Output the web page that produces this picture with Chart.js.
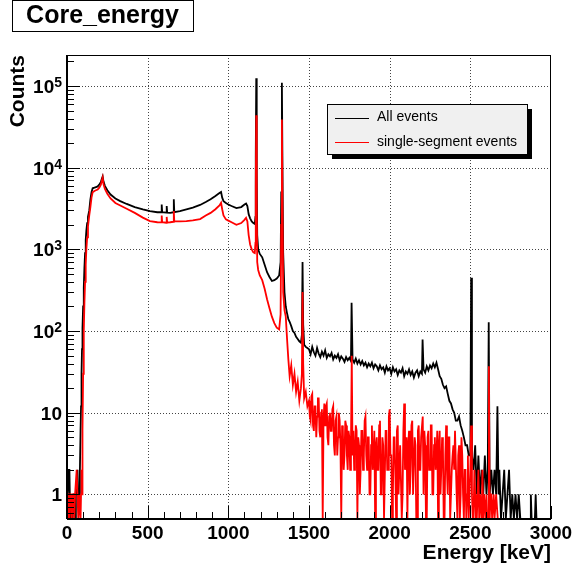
<!DOCTYPE html>
<html>
<head>
<meta charset="utf-8">
<script src="https://cdn.jsdelivr.net/npm/chart.js@4.4.1/dist/chart.umd.min.js"></script>
<style>
  html, body { margin: 0; padding: 0; background: #fff; }
</style>
</head>
<body>
<canvas id="myChart" width="576" height="569"></canvas>
<script>
const ctx = document.getElementById('myChart');

// histogram (keV, counts per bin); 0 = empty bin
const lowEnergy = [
  0, 5, 10, 15, 20, 25, 30, 35, 40, 45,
  50, 55, 60, 65, 70, 75, 80, 84, 87, 90,
  93, 96, 100, 104, 108, 112, 116, 120, 125, 130,
  138, 145, 152, 159, 170, 180, 190, 200, 210, 216,
  221, 226, 235, 250, 270, 300, 330, 370, 420, 470,
  514, 560, 585, 587, 590, 616, 618, 621, 640, 660,
  662, 665, 700, 740, 780, 825, 860, 890, 920, 945,
  955, 962, 970, 985, 1000, 1020, 1050, 1080, 1100, 1110,
  1118, 1126, 1135, 1145, 1155, 1164, 1168, 1170, 1173, 1176,
  1179, 1185, 1195, 1210, 1225, 1240, 1255, 1270, 1285, 1300,
  1315, 1324, 1328, 1332, 1336, 1340, 1348, 1356, 1364, 1372,
  1380, 1390, 1400, 1410, 1420, 1430, 1440, 1450, 1456, 1460,
  1464, 1470, 1480, 1490
];
const lowAll = [
  0, 1, 2, 2, 0, 1, 1, 0, 1, 1,
  0, 1, 1, 2, 1, 1, 2, 6, 12, 30,
  60, 110, 200, 340, 600, 900, 1300, 1700, 2100, 2500,
  3000, 4100, 5000, 5600, 5700, 5800, 5900, 6200, 6700, 7300,
  7800, 6800, 6000, 5300, 4700, 4200, 3900, 3600, 3300, 3100,
  2950, 2850, 2850, 3550, 2850, 2820, 3400, 2820, 2800, 2850,
  4100, 2850, 2950, 3100, 3250, 3500, 3800, 4100, 4500, 4900,
  5050, 4300, 3900, 3700, 3550, 3400, 3200, 3300, 3550, 3650,
  3400, 2700, 2400, 2200, 2100, 2050, 2500, 14000, 125000, 9000,
  1500, 1000, 880, 800, 650, 525, 460, 410, 420, 440,
  480, 700, 5000, 110000, 8000, 900, 300, 200, 165, 140,
  130, 115, 100, 95, 85, 80, 75, 72, 90, 700,
  120, 68, 64, 62
];
const lowSingle = [
  0, 1, 1, 0, 1, 1, 0, 1, 1, 0,
  1, 1, 2, 1, 0, 1, 1, 0, 1, 2,
  1, 6, 30, 100, 220, 400, 650, 1000, 1400, 1900,
  2600, 3300, 4300, 5000, 5200, 5300, 5400, 5700, 6200, 7000,
  7600, 6300, 5500, 4800, 4200, 3700, 3450, 3150, 2800, 2450,
  2220, 2150, 2140, 2600, 2150, 2120, 2500, 2130, 2150, 2180,
  2950, 2200, 2200, 2220, 2260, 2350, 2600, 2800, 3100, 3450,
  3720, 3100, 2600, 2330, 2250, 2150, 2000, 2100, 2300, 2440,
  2200, 1500, 1150, 1000, 920, 900, 1200, 6000, 44000, 3500,
  700, 560, 480, 420, 330, 245, 190, 150, 125, 110,
  105, 160, 2000, 39000, 3000, 300, 180, 150, 80, 45,
  28, 38, 22, 30, 18, 24, 14, 20, 30, 300,
  40, 15, 18, 12
];

// all events above 1.5 MeV
const highEnergy = [
  1500, 1510, 1520, 1530, 1540, 1550, 1560, 1570, 1580, 1590,
  1600, 1610, 1620, 1630, 1640, 1650, 1660, 1670, 1680, 1690,
  1700, 1710, 1720, 1730, 1740, 1750, 1760, 1764, 1770, 1780,
  1790, 1800, 1810, 1820, 1830, 1840, 1850, 1860, 1870, 1880,
  1890, 1900, 1910, 1920, 1930, 1940, 1950, 1960, 1970, 1980,
  1990, 2000, 2010, 2020, 2030, 2040, 2050, 2060, 2070, 2080,
  2090, 2100, 2110, 2120, 2130, 2140, 2150, 2160, 2170, 2180,
  2190, 2200, 2204, 2210, 2220, 2230, 2240, 2250, 2260, 2270,
  2280, 2290, 2300, 2310, 2320, 2330, 2340, 2350, 2360, 2370,
  2380, 2390, 2400, 2410, 2420, 2430, 2440, 2450, 2460, 2470,
  2480, 2490, 2500, 2505, 2510, 2520, 2530, 2540, 2550, 2560,
  2570, 2580, 2590, 2600, 2608, 2614, 2620, 2630, 2640, 2650,
  2660, 2668, 2675, 2680, 2690, 2700, 2710, 2720, 2730, 2740,
  2750, 2760, 2770, 2780, 2790, 2800, 2810, 2820, 2840, 2860,
  2870, 2875, 2880, 2900, 2905, 2910, 2940, 2970, 3000
];
const highAll = [
  60, 52, 64, 55, 50, 62, 53, 48, 56, 50,
  58, 47, 52, 49, 54, 45, 50, 47, 52, 44,
  49, 46, 42, 48, 44, 47, 43, 222, 45, 41,
  46, 40, 44, 39, 43, 38, 41, 36, 40, 37,
  41, 35, 39, 37, 33, 38, 34, 36, 31, 37,
  33, 35, 30, 36, 32, 34, 29, 33, 31, 35,
  28, 32, 30, 34, 29, 32, 27, 31, 33, 28,
  32, 30, 79, 34, 31, 37, 33, 38, 35, 40,
  36, 41, 34, 28, 26, 22, 20, 21, 17, 14,
  13, 11, 10, 8, 8, 9, 7, 6, 5, 4,
  4, 3, 3, 450, 3, 2, 4, 1, 3, 1,
  2, 1, 3, 1, 2, 128, 1, 2, 1, 2,
  1, 12, 1, 2, 0, 1, 2, 0, 1, 2,
  0, 1, 0, 1, 0, 1, 0, 0, 0, 0,
  0, 1, 0, 0, 1, 0, 0, 0, 0
];

// single-segment events above 1.5 MeV, finer bins
const singleHighEnergy = [
  1500, 1505, 1510, 1515, 1520, 1525, 1530, 1535, 1540, 1545,
  1550, 1555, 1560, 1565, 1570, 1575, 1580, 1585, 1590, 1595,
  1600, 1605, 1610, 1615, 1620, 1625, 1630, 1635, 1640, 1645,
  1650, 1655, 1660, 1665, 1670, 1675, 1680, 1685, 1690, 1695,
  1700, 1705, 1710, 1715, 1720, 1725, 1730, 1735, 1740, 1745,
  1750, 1755, 1760, 1765, 1770, 1775, 1780, 1785, 1790, 1795,
  1800, 1805, 1810, 1815, 1820, 1825, 1830, 1835, 1840, 1845,
  1850, 1855, 1860, 1865, 1870, 1875, 1880, 1885, 1890, 1895,
  1900, 1905, 1910, 1915, 1920, 1925, 1930, 1935, 1940, 1945,
  1950, 1955, 1960, 1965, 1970, 1975, 1980, 1985, 1990, 1995,
  2000, 2005, 2010, 2015, 2020, 2025, 2030, 2035, 2040, 2045,
  2050, 2055, 2060, 2065, 2070, 2075, 2080, 2085, 2090, 2095,
  2100, 2105, 2110, 2115, 2120, 2125, 2130, 2135, 2140, 2145,
  2150, 2155, 2160, 2165, 2170, 2175, 2180, 2185, 2190, 2195,
  2200, 2205, 2210, 2215, 2220, 2225, 2230, 2235, 2240, 2245,
  2250, 2255, 2260, 2265, 2270, 2275, 2280, 2285, 2290, 2295,
  2300, 2305, 2310, 2315, 2320, 2325, 2330, 2335, 2340, 2345,
  2350, 2355, 2360, 2365, 2370, 2375, 2380, 2385, 2390, 2395,
  2400, 2405, 2410, 2415, 2420, 2425, 2430, 2435, 2440, 2445,
  2450, 2455, 2460, 2465, 2470, 2475, 2480, 2485, 2490, 2495,
  2500, 2505, 2510, 2515, 2520, 2525, 2530, 2535, 2540, 2545,
  2550, 2555, 2560, 2565, 2570, 2575, 2580, 2585, 2590, 2595,
  2600, 2605, 2610, 2615, 2620, 2625, 2630, 2635, 2640, 2645,
  2650, 2660, 2670, 2700, 2800, 2900, 3000
];
const singleHigh = [
  14, 9, 8, 16, 17, 7, 6, 12, 12, 5,
  9, 15, 15, 6, 5, 10, 11, 0, 8, 13,
  7, 12, 13, 5, 4, 9, 10, 6, 6, 11,
  12, 4, 3, 8, 9, 3, 5, 10, 8, 4,
  0, 7, 6, 2, 3, 8, 7, 3, 2, 6,
  5, 2, 4, 50, 3, 6, 2, 3, 7, 6,
  0, 5, 4, 1, 2, 6, 6, 2, 3, 8,
  9, 3, 2, 5, 5, 1, 1, 4, 7, 2,
  3, 6, 0, 4, 5, 2, 2, 7, 8, 1,
  1, 5, 4, 0, 0, 6, 6, 2, 2, 9,
  11, 3, 3, 0, 1, 5, 5, 2, 0, 6,
  7, 1, 2, 4, 4, 0, 1, 6, 13, 2,
  3, 5, 0, 4, 6, 1, 2, 7, 8, 1,
  1, 5, 4, 0, 0, 6, 7, 2, 2, 5,
  5, 9, 1, 6, 4, 0, 0, 5, 6, 2,
  2, 7, 7, 1, 1, 4, 5, 2, 3, 6,
  0, 4, 6, 1, 2, 5, 4, 0, 0, 3,
  7, 2, 1, 5, 5, 0, 0, 2, 3, 4,
  2, 6, 6, 1, 0, 3, 4, 0, 1, 5,
  3, 1, 0, 2, 2, 0, 1, 3, 0, 1,
  2, 7, 1, 0, 0, 2, 1, 0, 0, 1,
  2, 0, 1, 1, 0, 2, 0, 1, 1, 0,
  1, 0, 0, 37, 0, 1, 1, 0, 0, 1,
  0, 1, 0, 0, 0, 0, 0
];

const seriesLabels = ['All events', 'single-segment events'];
const seriesColors = ['#000000', '#ff0000'];
const xTicks = [0, 500, 1000, 1500, 2000, 2500, 3000];
const yDecades = [1, 10, 100, 1000, 10000, 100000];
const Y_MIN = 0.5;
const Y_MAX = 240000;

const FONT = '"Liberation Sans", Arial, Helvetica, sans-serif';
Chart.defaults.font.family = FONT;
Chart.defaults.color = '#000';

function punti(energie, conteggi) {
  if (energie.length !== conteggi.length) console.error('length mismatch', energie.length, conteggi.length);
  // empty bins sit on the bottom edge, like ROOT does on a log axis
  return energie.map((e, i) => ({x: e, y: conteggi[i] > 0 ? conteggi[i] : Y_MIN}));
}

const allData = punti(lowEnergy.concat(highEnergy), lowAll.concat(highAll));
const singleData = punti(lowEnergy.concat(singleHighEnergy), lowSingle.concat(singleHigh));

const rootStyle = {
  id: 'rootStyle',
  beforeDatasetsDraw(chart) {
    const c = chart.ctx, a = chart.chartArea, x = chart.scales.x, y = chart.scales.y;
    c.save();
    c.strokeStyle = '#444';
    c.lineWidth = 1;
    c.setLineDash([1, 2]);
    xTicks.forEach(v => {
      if (v <= 0 || v >= 3000) return;
      const px = Math.round(x.getPixelForValue(v)) + 0.5;
      c.beginPath(); c.moveTo(px, a.top); c.lineTo(px, a.bottom); c.stroke();
    });
    yDecades.forEach(v => {
      const py = Math.round(y.getPixelForValue(v)) + 0.5;
      c.beginPath(); c.moveTo(a.left, py); c.lineTo(a.right, py); c.stroke();
    });
    c.restore();
  },
  afterDatasetsDraw(chart) {
    const c = chart.ctx, a = chart.chartArea, x = chart.scales.x, y = chart.scales.y;
    c.save();
    c.strokeStyle = '#000';
    c.lineWidth = 1;
    c.setLineDash([]);
    // frame
    c.strokeRect(Math.round(a.left) + 0.5, Math.round(a.top) + 0.5,
      Math.round(a.right - a.left) - 1, Math.round(a.bottom - a.top) - 1);
    c.lineWidth = 2;
    c.beginPath();
    c.moveTo(a.left, a.bottom); c.lineTo(a.right, a.bottom);
    c.moveTo(a.left, a.top); c.lineTo(a.left, a.bottom);
    c.stroke();

    // tick marks, inward
    c.lineWidth = 1;
    c.beginPath();
    for (let v = 0; v <= 3000; v += 100) {
      const px = Math.round(x.getPixelForValue(v)) + 0.5;
      const len = v % 500 === 0 ? 13 : 7;
      c.moveTo(px, a.bottom); c.lineTo(px, a.bottom - len);
    }
    for (let e = -1; e <= 5; e++) {
      for (let k = 1; k <= 9; k++) {
        const v = k * Math.pow(10, e);
        if (v < Y_MIN || v > Y_MAX) continue;
        const py = Math.round(y.getPixelForValue(v)) + 0.5;
        const len = k === 1 ? 13 : 7;
        c.moveTo(a.left, py); c.lineTo(a.left + len, py);
      }
    }
    c.stroke();

    // y labels 1, 10, 10^2 ...
    const right = a.left - 5;
    c.fillStyle = '#000';
    c.textBaseline = 'alphabetic';
    c.textAlign = 'right';
    yDecades.forEach(v => {
      const py = y.getPixelForValue(v);
      const n = Math.round(Math.log10(v));
      if (n < 2) {
        c.font = 'bold 19px ' + FONT;
        c.fillText(String(v), right, py + 7);
      } else {
        c.font = 'bold 14px ' + FONT;
        const exp = String(n);
        const w = c.measureText(exp).width;
        c.fillText(exp, right, py + 1);
        c.font = 'bold 19px ' + FONT;
        c.fillText('10', right - w, py + 7);
      }
    });

    // title box
    c.fillStyle = '#fff';
    c.fillRect(12.5, 0.5, 181, 31);
    c.strokeRect(12.5, 0.5, 181, 31);
    c.fillStyle = '#000';
    c.font = 'bold 25px ' + FONT;
    c.textAlign = 'center';
    c.textBaseline = 'middle';
    c.fillText('Core_energy', 102.5, 16);

    // legend box with shadow
    const lx = 327, ly = 104, lw = 200, lh = 50;
    c.fillStyle = '#000';
    c.fillRect(lx + 5, ly + 5, lw, lh);
    c.fillStyle = '#f0f0f0';
    c.fillRect(lx, ly, lw, lh);
    c.strokeStyle = '#000';
    c.strokeRect(lx + 0.5, ly + 0.5, lw, lh);
    c.font = '14px ' + FONT;
    c.textAlign = 'left';
    c.textBaseline = 'middle';
    chart.data.datasets.forEach((ds, i) => {
      const yy = ly + 13.5 + i * 24.5;
      c.strokeStyle = ds.borderColor;
      c.beginPath(); c.moveTo(lx + 8, Math.round(yy) + 0.5); c.lineTo(lx + 42, Math.round(yy) + 0.5); c.stroke();
      c.fillStyle = '#000';
      c.fillText(ds.label, lx + 50, yy);
    });
    c.restore();
  }
};

new Chart(ctx, {
  type: 'line',
  data: {
    datasets: [{
      label: seriesLabels[0],
      data: allData,
      borderColor: seriesColors[0],
      borderWidth: 1.8,
      pointRadius: 0,
      tension: 0,
      order: 1
    }, {
      label: seriesLabels[1],
      data: singleData,
      borderColor: seriesColors[1],
      borderWidth: 1.8,
      pointRadius: 0,
      tension: 0,
      order: 0
    }]
  },
  options: {
    responsive: false,
    animation: false,
    devicePixelRatio: 1,
    layout: {padding: {top: 55, right: 25, left: 0, bottom: 0}},
    plugins: {
      legend: {display: false},
      tooltip: {enabled: false},
      title: {display: false}
    },
    scales: {
      x: {
        type: 'linear',
        min: 0,
        max: 3000,
        grid: {display: false, drawTicks: false},
        border: {display: false},
        ticks: {
          stepSize: 500,
          autoSkip: false,
          maxRotation: 0,
          padding: 3,
          color: '#000',
          font: {size: 19, weight: 'bold'},
          callback: v => String(v)
        },
        title: {
          display: true,
          text: 'Energy [keV]',
          align: 'end',
          color: '#000',
          font: {size: 21, weight: 'bold'},
          padding: {top: 0, bottom: 3}
        },
        afterFit(s) { s.height = 50; }
      },
      y: {
        type: 'logarithmic',
        min: Y_MIN,
        max: Y_MAX,
        grid: {display: false, drawTicks: false},
        border: {display: false},
        ticks: {display: false},
        title: {
          display: true,
          text: 'Counts',
          align: 'end',
          color: '#000',
          font: {size: 21, weight: 'bold'},
          padding: {top: 6, bottom: 0}
        },
        afterFit(s) { s.width = 67; }
      }
    }
  },
  plugins: [rootStyle]
});
</script>
</body>
</html>
